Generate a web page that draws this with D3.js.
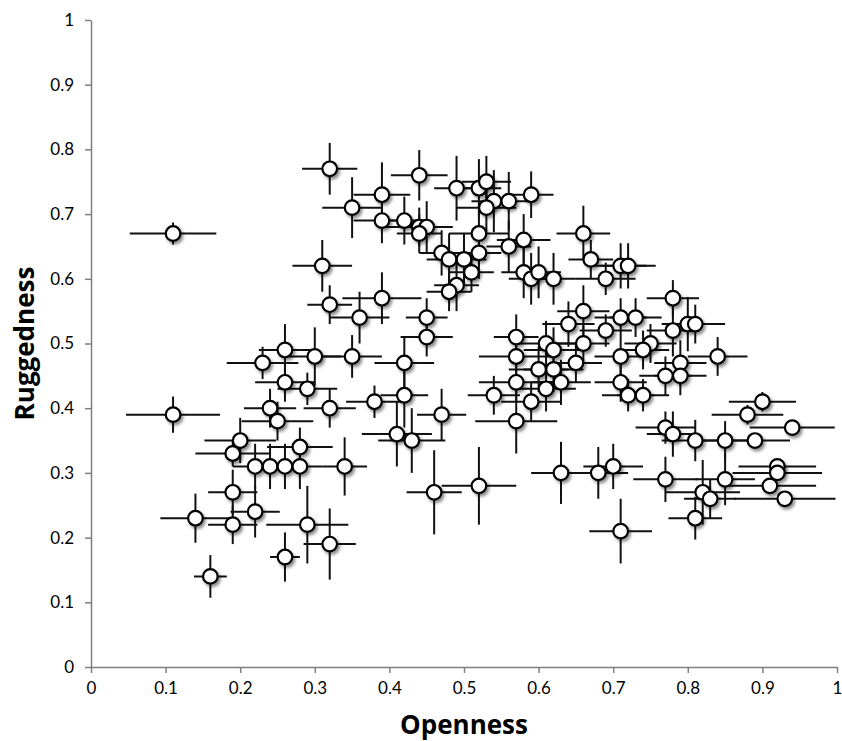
<!DOCTYPE html>
<html>
<head>
<meta charset="utf-8">
<script src="https://cdn.jsdelivr.net/npm/d3@7"></script>
<style>
  body { margin: 0; background: #fff; }
  .axis path, .axis line { stroke: #7f7f7f; stroke-width: 1.5px; }
  .axis text { font-family: Lato, "Open Sans", sans-serif; font-size: 17px; fill: #000; }
</style>
</head>
<body>
<svg width="842" height="741"></svg>
<script>
// openness (x), ruggedness (y), and the half-widths of the error bars
var openness = [0.11, 0.11, 0.16, 0.14, 0.19, 0.19, 0.22, 0.19, 0.20, 0.22, 0.24, 0.26, 0.28, 0.28, 0.26,
  0.29, 0.32, 0.34, 0.24, 0.25, 0.26, 0.29, 0.23, 0.26, 0.30, 0.32, 0.35, 0.38, 0.41, 0.42,
  0.43, 0.42, 0.45, 0.45, 0.47, 0.46, 0.52, 0.32, 0.36, 0.39, 0.31, 0.32, 0.35, 0.39, 0.39,
  0.42, 0.44, 0.44, 0.45, 0.44, 0.49, 0.52, 0.53, 0.54, 0.56, 0.59, 0.53, 0.52, 0.56, 0.58,
  0.47, 0.48, 0.50, 0.52, 0.51, 0.49, 0.48, 0.58, 0.59, 0.60, 0.62, 0.66, 0.67, 0.71, 0.72,
  0.69, 0.78, 0.66, 0.71, 0.73, 0.64, 0.69, 0.78, 0.80, 0.81, 0.66, 0.75, 0.74, 0.71, 0.84,
  0.65, 0.79, 0.77, 0.79, 0.71, 0.72, 0.74, 0.90, 0.88, 0.94, 0.77, 0.78, 0.81, 0.85, 0.89,
  0.70, 0.68, 0.92, 0.92, 0.77, 0.85, 0.91, 0.82, 0.83, 0.93, 0.81, 0.71, 0.57, 0.57, 0.61,
  0.62, 0.60, 0.62, 0.57, 0.63, 0.61, 0.54, 0.59, 0.57, 0.63];

var ruggedness = [0.67, 0.39, 0.14, 0.23, 0.22, 0.27, 0.24, 0.33, 0.35, 0.31, 0.31, 0.31, 0.31, 0.34, 0.17,
  0.22, 0.19, 0.31, 0.40, 0.38, 0.44, 0.43, 0.47, 0.49, 0.48, 0.40, 0.48, 0.41, 0.36, 0.42,
  0.35, 0.47, 0.51, 0.54, 0.39, 0.27, 0.28, 0.56, 0.54, 0.57, 0.62, 0.77, 0.71, 0.73, 0.69,
  0.69, 0.76, 0.68, 0.68, 0.67, 0.74, 0.74, 0.75, 0.72, 0.72, 0.73, 0.71, 0.67, 0.65, 0.66,
  0.64, 0.63, 0.63, 0.64, 0.61, 0.59, 0.58, 0.61, 0.60, 0.61, 0.60, 0.67, 0.63, 0.62, 0.62,
  0.60, 0.57, 0.55, 0.54, 0.54, 0.53, 0.52, 0.52, 0.53, 0.53, 0.50, 0.50, 0.49, 0.48, 0.48,
  0.47, 0.47, 0.45, 0.45, 0.44, 0.42, 0.42, 0.41, 0.39, 0.37, 0.37, 0.36, 0.35, 0.35, 0.35,
  0.31, 0.30, 0.31, 0.30, 0.29, 0.29, 0.28, 0.27, 0.26, 0.26, 0.23, 0.21, 0.51, 0.48, 0.50,
  0.49, 0.46, 0.46, 0.44, 0.44, 0.43, 0.42, 0.41, 0.38, 0.30];

var opennessErr = [0.058, 0.063, 0.022, 0.047, 0.033, 0.033, 0.033, 0.050, 0.048, 0.030, 0.030, 0.030, 0.030, 0.044, 0.020,
  0.055, 0.035, 0.030, 0.035, 0.048, 0.040, 0.040, 0.048, 0.035, 0.035, 0.035, 0.040, 0.038, 0.047, 0.032,
  0.045, 0.040, 0.035, 0.028, 0.033, 0.037, 0.050, 0.030, 0.040, 0.053, 0.040, 0.037, 0.040, 0.038, 0.038,
  0.030, 0.038, 0.045, 0.030, 0.030, 0.030, 0.030, 0.033, 0.030, 0.030, 0.030, 0.040, 0.040, 0.030, 0.036,
  0.030, 0.030, 0.030, 0.030, 0.030, 0.030, 0.030, 0.030, 0.030, 0.030, 0.030, 0.036, 0.030, 0.035, 0.037,
  0.040, 0.035, 0.035, 0.035, 0.035, 0.035, 0.035, 0.035, 0.035, 0.040, 0.035, 0.035, 0.035, 0.035, 0.040,
  0.035, 0.035, 0.035, 0.035, 0.035, 0.035, 0.035, 0.045, 0.048, 0.057, 0.040, 0.035, 0.045, 0.030, 0.047,
  0.040, 0.040, 0.052, 0.060, 0.043, 0.040, 0.062, 0.050, 0.035, 0.068, 0.036, 0.042, 0.030, 0.050, 0.040,
  0.040, 0.040, 0.040, 0.050, 0.040, 0.040, 0.035, 0.040, 0.055, 0.040];

var ruggednessErr = [0.017, 0.028, 0.033, 0.038, 0.030, 0.035, 0.040, 0.020, 0.035, 0.035, 0.035, 0.035, 0.035, 0.030, 0.038,
  0.060, 0.055, 0.045, 0.030, 0.030, 0.030, 0.025, 0.025, 0.040, 0.045, 0.030, 0.033, 0.025, 0.050, 0.050,
  0.050, 0.040, 0.030, 0.030, 0.040, 0.065, 0.060, 0.030, 0.040, 0.040, 0.040, 0.040, 0.047, 0.050, 0.035,
  0.037, 0.039, 0.030, 0.040, 0.030, 0.050, 0.045, 0.040, 0.048, 0.045, 0.036, 0.040, 0.050, 0.040, 0.040,
  0.035, 0.040, 0.040, 0.040, 0.030, 0.040, 0.030, 0.040, 0.040, 0.040, 0.040, 0.043, 0.030, 0.035, 0.035,
  0.025, 0.028, 0.040, 0.030, 0.030, 0.035, 0.025, 0.040, 0.042, 0.030, 0.030, 0.030, 0.030, 0.030, 0.030,
  0.030, 0.035, 0.030, 0.030, 0.030, 0.025, 0.025, 0.015, 0.015, 0.010, 0.025, 0.035, 0.032, 0.030, 0.010,
  0.035, 0.040, 0.010, 0.010, 0.035, 0.040, 0.010, 0.050, 0.030, 0.010, 0.033, 0.050, 0.035, 0.030, 0.035,
  0.035, 0.035, 0.035, 0.030, 0.035, 0.035, 0.030, 0.030, 0.050, 0.048];

var ticks = [0, 0.1, 0.2, 0.3, 0.4, 0.5, 0.6, 0.7, 0.8, 0.9, 1];

var svg = d3.select("svg"),
  margin = {top: 20, right: 5, bottom: 74, left: 91},
  width = +svg.attr("width") - margin.left - margin.right,
  height = +svg.attr("height") - margin.top - margin.bottom,
  g = svg.append("g").attr("transform", "translate(" + margin.left + "," + margin.top + ")");

var defs = svg.append("defs");
defs.append("filter")
    .attr("id", "shadow")
    .attr("x", "-50%").attr("y", "-50%")
    .attr("width", "200%").attr("height", "200%")
  .append("feDropShadow")
    .attr("dx", 2)
    .attr("dy", 2.5)
    .attr("stdDeviation", 1.8)
    .attr("flood-color", "#000")
    .attr("flood-opacity", 0.45);

var x = d3.scaleLinear().domain([0, 1]).range([0, width]);
var y = d3.scaleLinear().domain([0, 1]).range([height, 0]);

var data = openness.map(function(d, i) {
  return {x: d, y: ruggedness[i], ex: opennessErr[i], ey: ruggednessErr[i]};
});

var fmt = function(d) { return d === 0 || d === 1 ? d : d3.format(".1f")(d); };

// axes
g.append("g")
    .attr("class", "axis")
    .attr("transform", "translate(0," + height + ")")
    .call(d3.axisBottom(x).tickValues(ticks).tickSize(6).tickSizeOuter(0).tickFormat(fmt))
    .call(function(a) { a.selectAll("text").attr("dy", "1.05em"); });

g.append("g")
    .attr("class", "axis")
    .call(d3.axisLeft(y).tickValues(ticks).tickSize(6).tickSizeOuter(0).tickFormat(fmt))
    .call(function(a) { a.selectAll("text").attr("x", -17); });

// error bars
var bars = g.append("g")
    .attr("stroke", "#111")
    .attr("stroke-width", 2);

bars.selectAll(".hbar")
  .data(data)
  .enter().append("line")
    .attr("x1", function(d) { return x(d.x - d.ex); })
    .attr("x2", function(d) { return x(d.x + d.ex); })
    .attr("y1", function(d) { return y(d.y); })
    .attr("y2", function(d) { return y(d.y); });

bars.selectAll(".vbar")
  .data(data)
  .enter().append("line")
    .attr("x1", function(d) { return x(d.x); })
    .attr("x2", function(d) { return x(d.x); })
    .attr("y1", function(d) { return y(d.y - d.ey); })
    .attr("y2", function(d) { return y(d.y + d.ey); });

// markers
g.append("g")
  .selectAll("circle")
  .data(data)
  .enter().append("circle")
    .attr("cx", function(d) { return x(d.x); })
    .attr("cy", function(d) { return y(d.y); })
    .attr("r", 7.3)
    .attr("fill", "#fff")
    .attr("stroke", "#000")
    .attr("stroke-width", 2.2)
    .attr("filter", "url(#shadow)");

// axis titles
svg.append("text")
    .text("Openness")
    .attr("x", margin.left + width / 2)
    .attr("y", 734)
    .style("text-anchor", "middle")
    .style("font-family", "'Open Sans', sans-serif")
    .style("font-size", "26px")
    .style("font-weight", "bold");

svg.append("text")
    .text("Ruggedness")
    .attr("transform", "translate(34," + (margin.top + height / 2) + ") rotate(-90)")
    .style("text-anchor", "middle")
    .style("font-family", "'Open Sans', sans-serif")
    .style("font-size", "26px")
    .style("font-weight", "bold");
</script>
</body>
</html>
